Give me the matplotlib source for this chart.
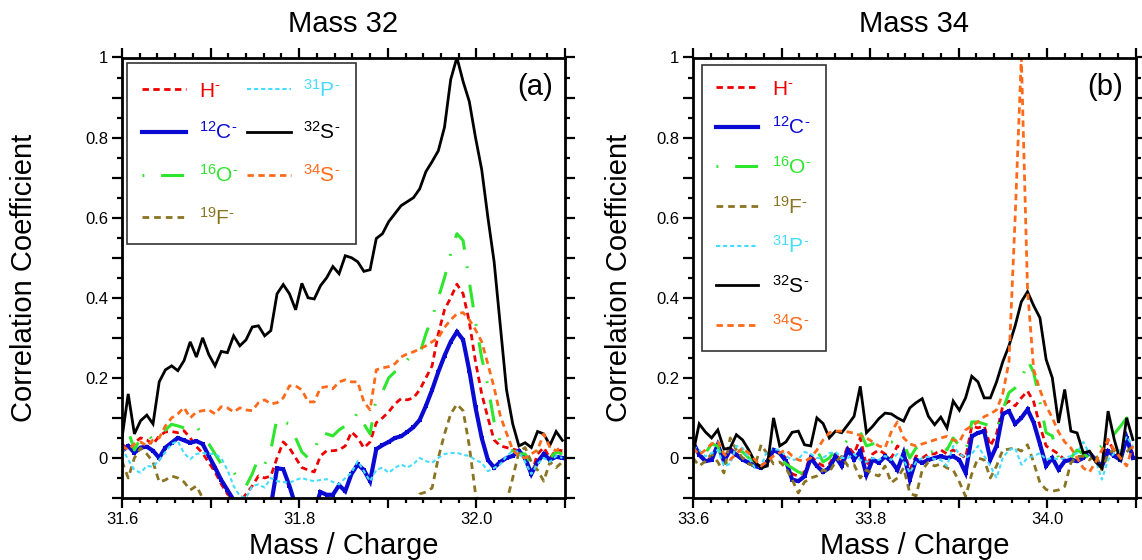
import numpy as np
import matplotlib
matplotlib.use("Agg")
import matplotlib.pyplot as plt
from matplotlib.ticker import MultipleLocator, FuncFormatter

plt.rcParams['font.family'] = ['Liberation Sans', 'DejaVu Sans']
plt.rcParams['mathtext.fontset'] = 'custom'
plt.rcParams['mathtext.rm'] = 'Liberation Sans'
plt.rcParams['mathtext.it'] = 'Liberation Sans:italic'
plt.rcParams['mathtext.bf'] = 'Liberation Sans:bold'
plt.rcParams['mathtext.default'] = 'regular'

# ---------------- data ----------------
mass_a = np.round(31.6 + 0.007 * np.arange(72), 3)
mass_b = np.round(33.6 + 0.007 * np.arange(72), 3)

labels = [r'H$^{\text{-}}$', r'$^{12}$C$^{\text{-}}$', r'$^{16}$O$^{\text{-}}$',
          r'$^{19}$F$^{\text{-}}$', r'$^{31}$P$^{\text{-}}$', r'$^{32}$S$^{\text{-}}$',
          r'$^{34}$S$^{\text{-}}$']

# Panel (a): Mass 32
a_H = [0.035, 0.02, 0.038, 0.05, 0.045, 0.034, 0.055, 0.065, 0.066, 0.063, 0.068, 0.05,
       0.028, 0.012, -0.012, -0.035, -0.065, -0.09, -0.105, -0.11, -0.09, -0.07, -0.045, -0.05,
       -0.045, 0.0, 0.04, 0.025, 0.0, -0.024, -0.03, -0.035, 0.005, 0.018, 0.018, 0.02,
       0.03, 0.065, 0.05, 0.025, 0.04, 0.088, 0.10, 0.115, 0.135, 0.148, 0.145, 0.15,
       0.17, 0.2, 0.23, 0.31, 0.37, 0.40, 0.434, 0.41, 0.34, 0.24, 0.16, 0.1,
       0.045, 0.03, 0.026, 0.022, 0.018, 0.0, -0.04, 0.01, 0.026, 0.0, 0.02, 0.018]
a_C = [0.018, 0.03, 0.013, 0.026, 0.028, 0.018, 0.0, 0.026, 0.038, 0.05, 0.044, 0.038,
       0.042, 0.035, 0.005, -0.024, -0.055, -0.08, -0.105, -0.12, -0.13, -0.14, -0.15, -0.14,
       -0.12, -0.026, -0.028, -0.07, -0.12, -0.15, -0.16, -0.13, -0.085, -0.092, -0.092, -0.068,
       -0.083, -0.04, -0.016, -0.03, -0.058, 0.022, 0.032, 0.04, 0.05, 0.054, 0.065, 0.077,
       0.095, 0.13, 0.17, 0.215, 0.255, 0.29, 0.315, 0.295, 0.218, 0.126, 0.05, -0.005,
       -0.024, -0.01, 0.0, 0.005, 0.018, 0.0, -0.04, -0.01, 0.01, -0.005, 0.003, 0.0]
a_O = [0.04, 0.068, 0.02, 0.05, 0.06, 0.045, 0.055, 0.07, 0.084, 0.08, 0.075, 0.07,
       0.08, 0.055, 0.035, 0.01, -0.015, -0.025, -0.035, -0.06, -0.07, -0.04, 0.0, -0.016,
       0.02, 0.10, 0.09, 0.085, 0.05, 0.015, 0.0, 0.015, 0.065, 0.06, 0.055, 0.07,
       0.08, 0.085, 0.115, 0.085, 0.06, 0.15, 0.165, 0.2, 0.215, 0.222, 0.245, 0.255,
       0.26, 0.31, 0.35, 0.40, 0.45, 0.51, 0.56, 0.543, 0.44, 0.34, 0.25, 0.18,
       0.09, 0.04, 0.02, 0.018, 0.01, 0.01, -0.015, 0.02, 0.01, 0.0, 0.015, 0.01]
a_F = [-0.008, -0.05, 0.0, 0.025, 0.01, -0.01, -0.06, -0.055, -0.045, -0.05, -0.06, -0.08,
       -0.07, -0.1, -0.14, -0.16, -0.17, -0.18, -0.17, -0.19, -0.18, -0.2, -0.19, -0.18,
       -0.2, -0.19, -0.2, -0.21, -0.2, -0.19, -0.2, -0.21, -0.2, -0.19, -0.2, -0.19,
       -0.2, -0.21, -0.2, -0.19, -0.18, -0.2, -0.19, -0.18, -0.17, -0.16, -0.15, -0.13,
       -0.09, -0.085, -0.075, 0.0, 0.06, 0.11, 0.134, 0.118, 0.03, -0.09, -0.15, -0.18,
       -0.18, -0.15, -0.11, -0.05, 0.015, 0.026, -0.01, -0.03, -0.058, -0.01, -0.024, -0.01]
a_P = [0.026, -0.005, -0.03, -0.037, -0.02, -0.022, -0.005, 0.015, 0.035, 0.042, 0.012, -0.003,
       0.01, 0.012, 0.01, 0.01, 0.0, -0.03, -0.07, -0.095, -0.1, -0.07, -0.066, -0.074,
       -0.05, -0.058, -0.06, -0.062, -0.055, -0.05, -0.055, -0.058, -0.055, -0.053, -0.06, -0.066,
       -0.05, -0.037, -0.008, -0.033, -0.058, -0.03, -0.024, -0.037, -0.025, -0.016, -0.024, -0.015,
       0.0, -0.008, -0.012, 0.0, 0.01, 0.012, 0.013, 0.008, 0.005, -0.005, -0.012, -0.033,
       -0.025, -0.016, 0.005, 0.018, 0.015, -0.01, -0.04, -0.015, 0.0, -0.01, 0.005, 0.0]
a_S32 = [0.05, 0.16, 0.06, 0.093, 0.107, 0.085, 0.19, 0.22, 0.23, 0.218, 0.243, 0.29,
         0.252, 0.30, 0.258, 0.23, 0.266, 0.263, 0.305, 0.28, 0.295, 0.327, 0.33, 0.305,
         0.318, 0.41, 0.433, 0.41, 0.37, 0.436, 0.40, 0.397, 0.43, 0.45, 0.478, 0.46,
         0.505, 0.50, 0.49, 0.466, 0.47, 0.548, 0.56, 0.59, 0.61, 0.63, 0.64, 0.65,
         0.672, 0.715, 0.74, 0.767, 0.826, 0.945, 1.0, 0.94, 0.89, 0.80, 0.72, 0.60,
         0.49, 0.33, 0.17, 0.085, 0.03, 0.038, 0.026, 0.066, 0.06, 0.032, 0.066, 0.044]
a_S34 = [0.03, 0.02, 0.035, 0.04, 0.03, 0.045, 0.05, 0.08, 0.10, 0.11, 0.126, 0.10,
         0.115, 0.118, 0.12, 0.11, 0.128, 0.125, 0.115, 0.125, 0.12, 0.118, 0.138, 0.145,
         0.135, 0.138, 0.15, 0.18, 0.18, 0.17, 0.14, 0.14, 0.175, 0.178, 0.173, 0.19,
         0.195, 0.19, 0.19, 0.14, 0.12, 0.22, 0.225, 0.228, 0.235, 0.252, 0.26, 0.265,
         0.272, 0.28, 0.29, 0.30, 0.326, 0.345, 0.36, 0.363, 0.345, 0.32, 0.29, 0.234,
         0.176, 0.105, 0.062, 0.02, 0.005, 0.0, 0.01, 0.02, 0.06, 0.026, 0.018, 0.03]

# Panel (b): Mass 34
b_H = [0.03, 0.01, -0.005, 0.0, 0.03, 0.0, 0.025, 0.01, 0.0, -0.01, -0.015, -0.02,
       -0.005, 0.02, 0.015, 0.0, -0.04, -0.045, -0.035, 0.005, -0.01, -0.02, -0.015, 0.01,
       -0.01, 0.03, 0.01, 0.05, -0.02, 0.01, 0.02, 0.01, 0.0, 0.03, 0.02, -0.03,
       0.005, 0.0, 0.01, 0.01, 0.02, 0.01, 0.02, 0.01, 0.0, 0.08, 0.075, 0.08,
       0.03, 0.06, 0.13, 0.142, 0.13, 0.15, 0.167, 0.14, 0.08, 0.03, 0.02, 0.01,
       -0.005, 0.0, -0.01, 0.005, 0.015, -0.005, -0.02, 0.046, 0.015, 0.0, 0.054, 0.01]
b_C = [0.04, 0.008, -0.008, -0.005, 0.033, -0.008, 0.02, 0.008, -0.004, -0.012, -0.02, -0.025,
       -0.01, 0.02, 0.012, -0.008, -0.054, -0.058, -0.046, 0.0, -0.02, -0.035, -0.025, 0.004,
       -0.02, 0.02, -0.004, 0.017, -0.042, -0.004, -0.012, 0.004, -0.008, -0.03, 0.012, -0.054,
       -0.004, -0.012, -0.005, 0.0, 0.004, 0.0, 0.004, -0.005, -0.037, 0.054, 0.0625, 0.067,
       -0.004, 0.03, 0.11, 0.117, 0.085, 0.1, 0.121, 0.088, 0.035, -0.02, 0.0, -0.029,
       -0.008, -0.005, -0.008, 0.0, 0.0125, -0.005, -0.021, 0.017, 0.005, -0.005, 0.05, 0.0]
b_O = [0.03, 0.01, 0.012, 0.035, 0.03, -0.02, 0.0, 0.02, 0.015, 0.0, -0.01, 0.01,
       0.02, 0.015, 0.0, -0.015, -0.025, -0.035, -0.04, 0.015, 0.02, -0.01, 0.0, 0.02,
       0.03, 0.045, 0.055, 0.065, 0.03, 0.035, 0.038, 0.04, 0.04, 0.035, 0.035, 0.0,
       0.025, 0.03, 0.013, 0.017, 0.033, 0.02, 0.05, 0.03, 0.015, 0.09, 0.09, 0.085,
       0.08, 0.07, 0.12, 0.163, 0.175, 0.19, 0.245, 0.213, 0.14, 0.063, 0.055, 0.0,
       0.012, 0.0, 0.02, 0.01, 0.0, 0.02, 0.03, 0.046, 0.06, 0.079, 0.1, 0.08]
b_F = [0.0, -0.02, -0.008, 0.01, -0.01, -0.0375, 0.05, 0.02, 0.0, -0.015, -0.02, 0.033,
       0.01, -0.015, -0.01, -0.025, -0.054, -0.0875, -0.06, -0.05, -0.045, -0.03, -0.035, -0.01,
       0.004, -0.02, -0.017, -0.05, -0.03, -0.04, -0.045, -0.02, -0.062, -0.05, -0.025, -0.088,
       -0.095, -0.03, -0.01, -0.02, -0.015, -0.025, -0.03, -0.06, -0.096, -0.04, 0.0, -0.005,
       -0.05, -0.02, 0.02, 0.022, 0.025, 0.017, 0.033, -0.012, -0.062, -0.079, -0.083, -0.08,
       -0.071, -0.012, 0.004, 0.004, -0.005, 0.01, -0.03, 0.01, 0.02, 0.0, 0.015, 0.03]
b_P = [0.03, 0.02, 0.004, 0.012, 0.02, -0.02, -0.015, 0.03, 0.025, 0.0, -0.025, -0.02,
       0.02, 0.022, 0.02, 0.005, -0.005, -0.003, 0.015, 0.01, 0.0, 0.0, 0.012, 0.015,
       0.0, 0.0, 0.01, -0.005, -0.01, 0.0, -0.005, 0.005, -0.005, 0.01, -0.005, -0.037,
       -0.01, 0.0, 0.003, -0.003, -0.005, -0.02, 0.03, 0.01, 0.0, 0.01, 0.03, 0.005,
       -0.02, -0.05, 0.0, 0.02, 0.025, -0.017, 0.0, 0.005, 0.012, -0.004, 0.0, -0.004,
       0.0, 0.005, 0.012, 0.04, 0.01, -0.005, -0.054, -0.005, 0.012, 0.02, 0.054, 0.03]
b_S32 = [0.012, 0.085, 0.065, 0.05, 0.07, 0.022, 0.025, 0.058, 0.045, 0.02, -0.01, -0.025,
         -0.02, 0.1, 0.03, 0.04, 0.064, 0.067, 0.033, 0.03, 0.1, 0.086, 0.05, 0.067,
         0.063, 0.083, 0.104, 0.179, 0.063, 0.079, 0.098, 0.112, 0.11, 0.1, 0.092, 0.125,
         0.138, 0.148, 0.104, 0.083, 0.102, 0.075, 0.142, 0.119, 0.15, 0.204, 0.19, 0.15,
         0.15, 0.19, 0.24, 0.28, 0.33, 0.39, 0.415, 0.38, 0.35, 0.246, 0.2, 0.0875,
         0.171, 0.067, 0.0625, 0.0125, 0.017, -0.01, -0.025, 0.117, 0.046, -0.008, 0.1, 0.046]
b_S34 = [0.025, 0.008, 0.02, 0.035, 0.042, 0.01, -0.004, 0.01, 0.025, 0.012, -0.005, -0.02,
         -0.008, 0.005, 0.013, 0.02, 0.005, -0.005, -0.008, 0.0, 0.02, 0.045, 0.063, 0.067,
         0.067, 0.065, 0.062, 0.056, 0.05, 0.04, 0.03, 0.025, 0.065, 0.09, 0.05, 0.035,
         0.03, 0.035, 0.04, 0.045, 0.05, 0.054, 0.045, 0.04, 0.07, 0.08, 0.09, 0.103,
         0.11, 0.12, 0.16, 0.24, 0.6, 1.0, 0.42, 0.22, 0.17, 0.13, 0.1, 0.065,
         0.04, 0.025, 0.0, -0.025, -0.035, -0.01, 0.02, 0.045, 0.02, 0.0, -0.02, 0.03]

# ---------------- styles ----------------
styles = [
    dict(color='#ee0000', lw=2.0, dashes=(2.3, 1.6)),
    dict(color='#0a0ad2', lw=3.0, marker='s', ms=2.6, mew=0),
    dict(color='#2ee62e', lw=2.2, dashes=(0.6, 5.5, 7.5, 5.5)),
    dict(color='#8a7422', lw=2.0, dashes=(2.4, 1.8)),
    dict(color='#44dcff', lw=1.5, dashes=(2.0, 1.4)),
    dict(color='#000000', lw=2.0),
    dict(color='#ff6a1a', lw=2.0, dashes=(2.3, 1.6)),
]

fig = plt.figure(figsize=(11.42, 5.6), dpi=100)
ax1 = fig.add_axes([122 / 1142, 62 / 560, 443 / 1142, 440.5 / 560])
ax2 = fig.add_axes([693 / 1142, 62 / 560, 442.5 / 1142, 440.5 / 560])


def yfmt(v, pos):
    if abs(round(v / 0.2) * 0.2 - v) > 1e-6 or v < -1e-9:
        return ''
    s = '%.1f' % v
    if s == '0.0':
        return '0'
    if s == '1.0':
        return '1'
    return s


def xfmt(v, pos):
    if abs(round(v / 0.2) * 0.2 - v) > 1e-6:
        return ''
    return '%.1f' % v


panels = [
    (ax1, mass_a, [a_H, a_C, a_O, a_F, a_P, a_S32, a_S34], 'Mass 32', '(a)', 31.6, -0.19),
    (ax2, mass_b, [b_H, b_C, b_O, b_F, b_P, b_S32, b_S34], 'Mass 34', '(b)', 33.6, -0.136),
]

for ax, xs, series, title, tag, x0, ylab_x in panels:
    for ys, st, lab in zip(series, styles, labels):
        ax.plot(xs, ys, label=lab, solid_joinstyle='miter', **st)
    ax.set_xlim(x0, x0 + 0.5)
    ax.set_ylim(-0.1, 1.0)
    ax.xaxis.set_major_locator(MultipleLocator(0.1))
    ax.xaxis.set_minor_locator(MultipleLocator(0.02))
    ax.yaxis.set_major_locator(MultipleLocator(0.1))
    ax.yaxis.set_minor_locator(MultipleLocator(0.05))
    ax.xaxis.set_major_formatter(FuncFormatter(xfmt))
    ax.yaxis.set_major_formatter(FuncFormatter(yfmt))
    ax.tick_params(which='both', direction='out', top=True, right=True,
                   labelsize=12, width=1.6, pad=3)
    ax.tick_params(which='major', length=7)
    ax.tick_params(which='minor', length=3.8)
    for sp in ax.spines.values():
        sp.set_linewidth(2.0)
    ax.set_title(title, fontsize=21, pad=18)
    ax.set_xlabel('Mass / Charge', fontsize=21)
    ax.xaxis.set_label_coords(0.5, -0.077)
    ax.set_ylabel('Correlation Coefficient', fontsize=21)
    ax.yaxis.set_label_coords(ylab_x, 0.5)
    ax.text(0.932, 0.933, tag, transform=ax.transAxes, fontsize=21,
            ha='center', va='center')

handles1, labs1 = ax1.get_legend_handles_labels()
leg1 = ax1.legend(handles1, labs1, ncol=2, loc='upper left',
                  bbox_to_anchor=(0.011, 0.9875), borderaxespad=0,
                  fontsize=15, handlelength=2.1, handletextpad=0.6,
                  labelspacing=1.0, borderpad=0.75, columnspacing=0.4,
                  fancybox=False, framealpha=1, edgecolor='#333333')
leg1.get_frame().set_linewidth(1.2)

handles2, labs2 = ax2.get_legend_handles_labels()
leg2 = ax2.legend(handles2, labs2, ncol=1, loc='upper left',
                  bbox_to_anchor=(0.02, 0.983), borderaxespad=0,
                  fontsize=15, handlelength=2.0, handletextpad=0.65,
                  labelspacing=0.85, borderpad=0.7,
                  fancybox=False, framealpha=1, edgecolor='#333333')
leg2.get_frame().set_linewidth(1.2)

for leg in (leg1, leg2):
    for txt, st in zip(leg.get_texts(), styles):
        txt.set_color(st['color'])

fig.savefig('out.png', dpi=100)
